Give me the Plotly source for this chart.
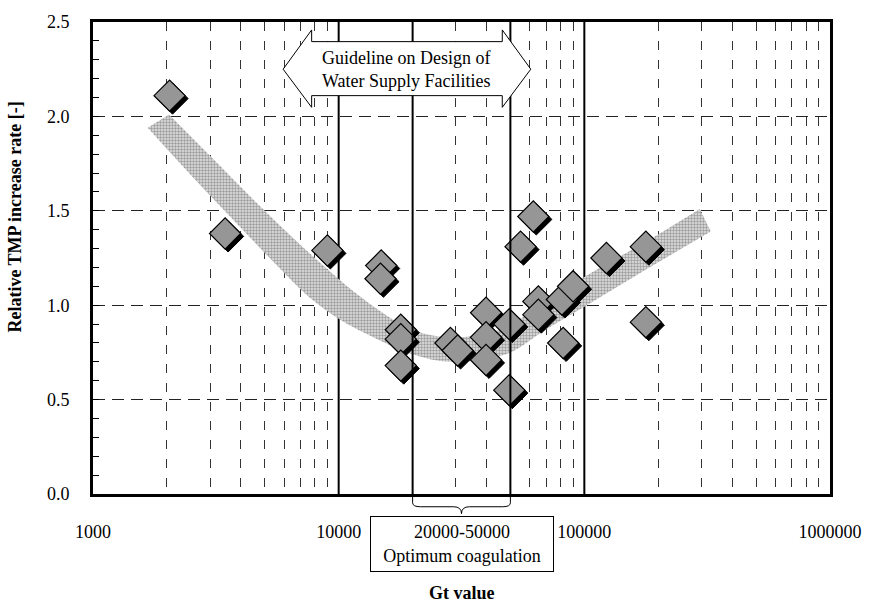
import numpy as np
import plotly.graph_objects as go

# Measured runs: Gt value vs. relative TMP increase rate
gt_value = [2050, 3450, 9000, 14900, 14800, 17900, 17900, 17900, 28500, 30500,
            39800, 39800, 39800, 49500, 49500, 55000, 62000, 65000, 65000, 81000,
            82000, 90000, 123000, 178000, 178000]
tmp_rate = [2.11, 1.38, 1.29, 1.21, 1.14, 0.87, 0.82, 0.68, 0.80, 0.76,
            0.96, 0.83, 0.71, 0.90, 0.55, 1.31, 1.47, 1.02, 0.95, 1.03,
            0.80, 1.10, 1.25, 1.31, 0.91]

# Trend band (upper and lower edges)
band_upper_x = [2040, 3000, 5000, 8000, 13000, 20000, 28500, 45000, 70000, 100000, 180000, 295000]
band_upper_y = [2.01, 1.79, 1.50, 1.25, 1.02, 0.87, 0.83, 0.87, 1.02, 1.15, 1.34, 1.51]
band_lower_x = [1670, 2500, 3550, 5520, 7630, 10240, 12880, 19960, 28500, 47900, 69600,
                99600, 179000, 327000]
band_lower_y = [1.94, 1.69, 1.48, 1.22, 1.04, 0.92, 0.85, 0.74, 0.70, 0.74, 0.87,
                0.99, 1.19, 1.39]

guideline_range = [10000, 100000]   # Guideline on Design of Water Supply Facilities
optimum_range = [20000, 50000]      # optimum coagulation

x_ticks = [1000, 10000, 100000, 1000000]
y_ticks = [0.0, 0.5, 1.0, 1.5, 2.0, 2.5]
x_minor = [m * 10 ** e for e in range(3, 6) for m in range(2, 10)]

X_RANGE = [3, 6]      # log10
Y_RANGE = [0, 2.5]

W, H = 874, 605
M = dict(l=93, r=32, t=13, b=111)
plot_w = W - M["l"] - M["r"]
plot_h = H - M["t"] - M["b"]

FONT = "Liberation Serif"
FS = 18


def xp(v):
    """data x -> paper fraction"""
    return (np.log10(v) - X_RANGE[0]) / (X_RANGE[1] - X_RANGE[0])


def lp(lx):
    """log10 x -> paper fraction"""
    return (lx - X_RANGE[0]) / (X_RANGE[1] - X_RANGE[0])


def yp(v):
    return (v - Y_RANGE[0]) / (Y_RANGE[1] - Y_RANGE[0])


fig = go.Figure()

# stippled trend band: lower edge, then upper edge filled down to it
fig.add_trace(go.Scatter(
    x=band_lower_x, y=band_lower_y, mode="lines",
    line=dict(width=0, shape="spline", smoothing=1.0),
    hoverinfo="skip", showlegend=False,
))
fig.add_trace(go.Scatter(
    x=band_upper_x, y=band_upper_y, mode="lines",
    line=dict(width=0, shape="spline", smoothing=1.0),
    fill="tonexty", fillcolor="rgba(0,0,0,0)",
    fillpattern=dict(shape=".", fgcolor="#555555", bgcolor="#e2e2e2",
                     size=3, solidity=0.5),
    hoverinfo="skip", showlegend=False,
))

# drop shadow of the diamonds (3 px down-right)
shift_px = 3
dec_per_px = (X_RANGE[1] - X_RANGE[0]) / plot_w
unit_per_px = (Y_RANGE[1] - Y_RANGE[0]) / plot_h
fig.add_trace(go.Scatter(
    x=np.array(gt_value) * 10 ** (shift_px * dec_per_px),
    y=np.array(tmp_rate) - shift_px * unit_per_px,
    mode="markers",
    marker=dict(symbol="diamond", size=24, color="black", line=dict(width=1, color="black")),
    hoverinfo="skip", showlegend=False,
))

fig.add_trace(go.Scatter(
    x=gt_value, y=tmp_rate, mode="markers",
    marker=dict(symbol="diamond", size=24, color="#969696", line=dict(width=1.2, color="black")),
    showlegend=False,
))

shapes = []
for g in guideline_range:
    shapes.append(dict(type="line", xref="x", yref="paper", x0=g, x1=g, y0=0, y1=1,
                       line=dict(color="black", width=2), layer="below"))
for g in optimum_range:
    shapes.append(dict(type="line", xref="x", yref="paper", x0=g, x1=g, y0=0, y1=1,
                       line=dict(color="black", width=2), layer="above"))

# double block arrow for the guideline range (axis units: log10 x, y)
tipL, baseL, baseR, tipR = 3.774, 3.89, 4.666, 4.782
body_lo, body_hi, head_lo, head_hi, tip_y = 2.11, 2.396, 2.048, 2.458, 2.25
pts = [(tipL, tip_y), (baseL, head_hi), (baseL, body_hi), (baseR, body_hi), (baseR, head_hi),
       (tipR, tip_y), (baseR, head_lo), (baseR, body_lo), (baseL, body_lo), (baseL, head_lo)]
path = "M " + " L ".join(f"{lp(a):.5f},{yp(b):.5f}" for a, b in pts) + " Z"
shapes.append(dict(type="path", xref="paper", yref="paper", path=path,
                   fillcolor="white", line=dict(color="black", width=1), layer="above"))

# curly brace under the optimum range
xl, xr = xp(optimum_range[0]), xp(optimum_range[1])
xm = (xl + xr) / 2
dx = 8 / plot_w
y1, y2, y3 = -9 / plot_h, -13 / plot_h, -20 / plot_h
brace = (f"M {xl},0 L {xl},{y1} Q {xl},{y2} {xl+dx},{y2} L {xm-dx},{y2} "
         f"Q {xm},{y2} {xm},{y3} Q {xm},{y2} {xm+dx},{y2} L {xr-dx},{y2} "
         f"Q {xr},{y2} {xr},{y1} L {xr},0")
shapes.append(dict(type="path", xref="paper", yref="paper", path=brace,
                   line=dict(color="black", width=1)))

annotations = [
    dict(text="Guideline on Design of<br>Water Supply Facilities", xref="paper", yref="paper",
         x=lp(4.278), y=yp(tip_y), showarrow=False, font=dict(family=FONT, size=FS, color="black"),
         xanchor="center", yanchor="middle"),
    dict(text=f"{optimum_range[0]}-{optimum_range[1]}<br>Optimum coagulation",
         xref="paper", yref="paper", x=xm, y=-51 / plot_h, showarrow=False,
         font=dict(family=FONT, size=FS, color="black"), xanchor="center", yanchor="middle",
         bordercolor="black", borderwidth=1, borderpad=4, bgcolor="white", width=174, height=46),
    dict(text="<b>Relative TMP increase rate [-]</b>", xref="paper", yref="paper",
         x=-79 / plot_w, y=(494 - 212) / plot_h, textangle=-90, showarrow=False,
         font=dict(family=FONT, size=FS, color="black"), xanchor="center", yanchor="middle"),
    dict(text="<b>Gt value</b>", xref="paper", yref="paper", x=0.5, y=-101 / plot_h,
         showarrow=False, font=dict(family=FONT, size=FS, color="black"),
         xanchor="center", yanchor="middle"),
]

fig.update_layout(
    width=W, height=H, margin=M,
    paper_bgcolor="white", plot_bgcolor="white",
    font=dict(family=FONT, size=FS, color="black"),
    shapes=shapes, annotations=annotations,
    xaxis=dict(
        type="log", range=X_RANGE, tickvals=x_ticks, ticktext=[str(v) for v in x_ticks],
        showgrid=False, zeroline=False, ticks="", ticklabelstandoff=19,
        showline=True, linecolor="black", linewidth=3, mirror=True,
        minor=dict(tickvals=x_minor, showgrid=True, gridcolor="#333333", gridwidth=1,
                   griddash="9px,10px", ticks=""),
        tickfont=dict(family=FONT, size=FS, color="black"),
    ),
    yaxis=dict(
        range=Y_RANGE, tickvals=y_ticks, tickformat=".1f",
        showgrid=True, gridcolor="#222222", gridwidth=1, griddash="12px,7px",
        zeroline=False, ticks="inside", ticklen=6, tickcolor="black", tickwidth=1,
        ticklabelstandoff=17,
        showline=True, linecolor="black", linewidth=3, mirror=True,
        minor=dict(dtick=0.1, ticks="inside", ticklen=6, tickcolor="black", showgrid=False),
        tickfont=dict(family=FONT, size=FS, color="black"),
    ),
)

fig.write_html("out.html")
